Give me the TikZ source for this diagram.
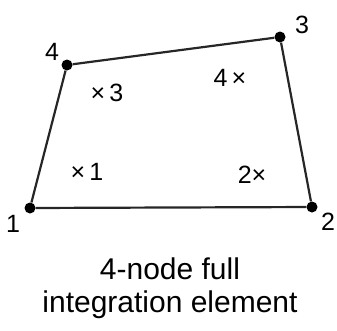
\documentclass[tikz,border=0pt]{standalone}
\usepackage{fontspec}
\setmainfont{Liberation Sans}
\usepackage{tikz}
\usetikzlibrary{positioning}

\begin{document}
\begin{tikzpicture}[
  x=1pt, y=-1pt,
  dot/.style={circle, fill=black, inner sep=0pt, minimum size=11pt},
  edge/.style={line width=2.2pt, black!85},
  lbl/.style={inner sep=0pt, font=\fontsize{25}{27}\selectfont},
  gp/.style={inner sep=0pt, font=\fontsize{25}{27}\selectfont},
  captext/.style={align=center, inner sep=0pt, font=\fontsize{30}{33}\selectfont}
]
  \useasboundingbox (0,0) rectangle (337,330);
  % corner nodes of the element
  \node[dot] (n1) at (30,208) {};
  \node[dot] (n2) at (312,207) {};
  \node[dot] (n3) at (280,37) {};
  \node[dot] (n4) at (67,65) {};
  \draw[edge] (n1) -- (n2) -- (n3) -- (n4) -- (n1);
  % node numbers
  \node[lbl] (l1) at (13,224) {1};
  \node[lbl] (l2) at (328,222) {2};
  \node[lbl] (l3) at (302,25) {3};
  \node[lbl] (l4) at (52,52) {4};
  % integration points
  \node[gp] (g1) at (87,172) {×\,1};
  \node[gp] (g2) at (252,175) {2×};
  \node[gp] (g3) at (107,93) {×\,3};
  \node[gp] (g4) at (230,78) {4\,×};
  % caption
  \node[captext] (caption) at (170,288) {4-node full\\integration element};
\end{tikzpicture}
\end{document}
